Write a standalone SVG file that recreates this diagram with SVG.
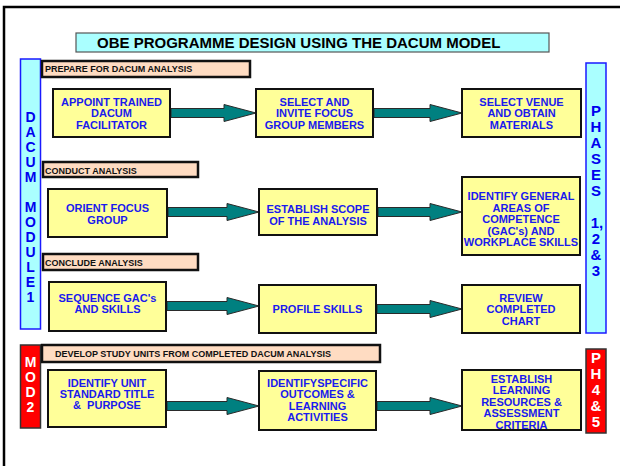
<svg xmlns="http://www.w3.org/2000/svg" width="620" height="466" viewBox="0 0 620 466">
  <style>
    .frame { fill: none; stroke: #000; stroke-width: 2.5; }
    .title-box { fill: #aaffff; stroke: #555; stroke-width: 1.2; }
    .title { font-family: "Liberation Sans", Arial, sans-serif; font-weight: bold; font-size: 15px; fill: #000; }
    .col { fill: #aaffff; stroke: #1a1aff; stroke-width: 1.5; }
    .col-red { fill: #ff0000; stroke: #333; stroke-width: 1.5; }
    .col-txt { font-family: "Liberation Sans", Arial, sans-serif; font-weight: bold; font-size: 14px; fill: #0000ee; text-anchor: middle; }
    .col-txt-w { font-family: "Liberation Sans", Arial, sans-serif; font-weight: bold; font-size: 15px; fill: #fff; text-anchor: middle; }
    .bar { fill: #ffdcc2; stroke: #111; stroke-width: 2.5; }
    .bar-txt { font-family: "Liberation Sans", Arial, sans-serif; font-weight: bold; font-size: 9px; fill: #111; }
    .box { fill: #ffff99; stroke: #111; stroke-width: 2; }
    .box-txt { font-family: "Liberation Sans", Arial, sans-serif; font-weight: bold; font-size: 11px; fill: #1a1aee; text-anchor: middle; }
    .arrow { fill: #008080; stroke: #2a2a2a; stroke-width: 1; }
  </style>

  <rect width="620" height="466" fill="#fff"/>
  <!-- slide frame -->
  <path class="frame" d="M4,466 L4,7 L622,7"/>

  <g id="title">
    <rect class="title-box" x="76" y="33" width="473" height="19"/>
    <text class="title" x="97" y="48">OBE PROGRAMME DESIGN USING THE DACUM MODEL</text>
  </g>

  <!-- side columns -->
  <g id="dacum-module-1">
    <rect class="col" x="20.5" y="59" width="20" height="270"/>
    <text class="col-txt" x="30.5" y="122">D</text>
    <text class="col-txt" x="30.5" y="137">A</text>
    <text class="col-txt" x="30.5" y="152">C</text>
    <text class="col-txt" x="30.5" y="167">U</text>
    <text class="col-txt" x="30.5" y="182">M</text>
    <text class="col-txt" x="30.5" y="212">M</text>
    <text class="col-txt" x="30.5" y="227">O</text>
    <text class="col-txt" x="30.5" y="242">D</text>
    <text class="col-txt" x="30.5" y="257">U</text>
    <text class="col-txt" x="30.5" y="272">L</text>
    <text class="col-txt" x="30.5" y="287">E</text>
    <text class="col-txt" x="30.5" y="302">1</text>
  </g>

  <g id="phases-1-2-3">
    <rect class="col" x="586" y="63" width="20" height="270"/>
    <text class="col-txt" style="font-size:15px" x="596" y="115.5">P</text>
    <text class="col-txt" style="font-size:15px" x="596" y="131.5">H</text>
    <text class="col-txt" style="font-size:15px" x="596" y="147.5">A</text>
    <text class="col-txt" style="font-size:15px" x="596" y="163.5">S</text>
    <text class="col-txt" style="font-size:15px" x="596" y="179.5">E</text>
    <text class="col-txt" style="font-size:15px" x="596" y="195.5">S</text>
    <text class="col-txt" style="font-size:15px" x="597" y="227.5">1,</text>
    <text class="col-txt" style="font-size:15px" x="596" y="243.5">2</text>
    <text class="col-txt" style="font-size:15px" x="596" y="259.5">&amp;</text>
    <text class="col-txt" style="font-size:15px" x="596" y="275.5">3</text>
  </g>

  <g id="mod-2">
    <rect class="col-red" x="20.5" y="345" width="20" height="83"/>
    <text class="col-txt-w" style="font-size:14px" x="30.5" y="367">M</text>
    <text class="col-txt-w" style="font-size:14px" x="30.5" y="382">O</text>
    <text class="col-txt-w" style="font-size:14px" x="30.5" y="397">D</text>
    <text class="col-txt-w" style="font-size:14px" x="30.5" y="412">2</text>
  </g>

  <g id="phases-4-5">
    <rect class="col-red" x="586" y="349" width="20" height="84"/>
    <text class="col-txt-w" x="596" y="362.5">P</text>
    <text class="col-txt-w" x="596" y="378.5">H</text>
    <text class="col-txt-w" x="596" y="394.5">4</text>
    <text class="col-txt-w" x="596" y="410.5">&amp;</text>
    <text class="col-txt-w" x="596" y="426.5">5</text>
  </g>

  <!-- stage headings -->
  <g id="prepare-heading">
    <rect class="bar" x="42" y="61" width="208" height="16"/>
    <text class="bar-txt" x="45" y="72">PREPARE FOR DACUM ANALYSIS</text>
  </g>
  <g id="conduct-heading">
    <rect class="bar" x="43" y="162" width="155" height="15"/>
    <text class="bar-txt" x="45" y="173.5">CONDUCT ANALYSIS</text>
  </g>
  <g id="conclude-heading">
    <rect class="bar" x="43" y="254" width="155" height="16"/>
    <text class="bar-txt" x="45" y="265.5">CONCLUDE ANALYSIS</text>
  </g>
  <g id="develop-heading">
    <rect class="bar" x="42" y="345" width="338" height="17"/>
    <text class="bar-txt" x="55" y="357">DEVELOP STUDY UNITS FROM COMPLETED DACUM ANALYSIS</text>
  </g>

  <!-- connectors -->
  <g id="connectors">
    <path class="arrow" d="M171,108.5 L224,108.5 L224,104.5 L256,113 L224,121.5 L224,117.5 L171,117.5 Z"/>
    <path class="arrow" d="M374,108.5 L430,108.5 L430,104.5 L462,113 L430,121.5 L430,117.5 L374,117.5 Z"/>
    <path class="arrow" d="M168,207.5 L227,207.5 L227,203.5 L259,212 L227,220.5 L227,216.5 L168,216.5 Z"/>
    <path class="arrow" d="M378,207.5 L430,207.5 L430,203.5 L462,212 L430,220.5 L430,216.5 L378,216.5 Z"/>
    <path class="arrow" d="M167,301.5 L227,301.5 L227,297.5 L259,306 L227,314.5 L227,310.5 L167,310.5 Z"/>
    <path class="arrow" d="M377,304.5 L430,304.5 L430,300.5 L462,309 L430,317.5 L430,313.5 L377,313.5 Z"/>
    <path class="arrow" d="M167,401.5 L227,401.5 L227,397.5 L259,406 L227,414.5 L227,410.5 L167,410.5 Z"/>
    <path class="arrow" d="M377,401.5 L430,401.5 L430,397.5 L462,406 L430,414.5 L430,410.5 L377,410.5 Z"/>
  </g>

  <!-- row 1 -->
  <g id="appoint-facilitator">
    <rect class="box" x="53" y="89" width="117" height="48"/>
    <text class="box-txt" x="111.5" y="106">APPOINT TRAINED</text>
    <text class="box-txt" x="111.5" y="117">DACUM</text>
    <text class="box-txt" x="111.5" y="128.5">FACILITATOR</text>
  </g>
  <g id="select-focus-group">
    <rect class="box" x="256" y="89" width="117" height="48"/>
    <text class="box-txt" x="314.5" y="106">SELECT AND</text>
    <text class="box-txt" x="314.5" y="117">INVITE FOCUS</text>
    <text class="box-txt" x="314.5" y="128.5">GROUP MEMBERS</text>
  </g>
  <g id="select-venue">
    <rect class="box" x="462" y="89" width="119" height="48"/>
    <text class="box-txt" x="521.5" y="106">SELECT VENUE</text>
    <text class="box-txt" x="521.5" y="117">AND OBTAIN</text>
    <text class="box-txt" x="521.5" y="128.5">MATERIALS</text>
  </g>

  <!-- row 2 -->
  <g id="orient-focus-group">
    <rect class="box" x="48" y="189" width="119" height="48"/>
    <text class="box-txt" x="107.5" y="212">ORIENT FOCUS</text>
    <text class="box-txt" x="107.5" y="224">GROUP</text>
  </g>
  <g id="establish-scope">
    <rect class="box" x="259" y="189" width="118" height="46"/>
    <text class="box-txt" x="318" y="213">ESTABLISH SCOPE</text>
    <text class="box-txt" x="318" y="225">OF THE ANALYSIS</text>
  </g>
  <g id="identify-gacs">
    <rect class="box" x="462" y="177" width="118" height="78"/>
    <text class="box-txt" x="521" y="200">IDENTIFY GENERAL</text>
    <text class="box-txt" x="521" y="211.5">AREAS OF</text>
    <text class="box-txt" x="521" y="223">COMPETENCE</text>
    <text class="box-txt" x="521" y="234.5">(GAC's) AND</text>
    <text class="box-txt" x="521" y="246">WORKPLACE SKILLS</text>
  </g>

  <!-- row 3 -->
  <g id="sequence-gacs">
    <rect class="box" x="49" y="282" width="117" height="49"/>
    <text class="box-txt" x="107.5" y="302">SEQUENCE GAC's</text>
    <text class="box-txt" x="107.5" y="313">AND SKILLS</text>
  </g>
  <g id="profile-skills">
    <rect class="box" x="259" y="285" width="117" height="48"/>
    <text class="box-txt" x="317.5" y="313">PROFILE SKILLS</text>
  </g>
  <g id="review-chart">
    <rect class="box" x="462" y="285" width="118" height="48"/>
    <text class="box-txt" x="521" y="302">REVIEW</text>
    <text class="box-txt" x="521" y="313">COMPLETED</text>
    <text class="box-txt" x="521" y="324.5">CHART</text>
  </g>

  <!-- row 4 -->
  <g id="identify-unit">
    <rect class="box" x="48" y="370" width="118" height="57"/>
    <text class="box-txt" x="107" y="387">IDENTIFY UNIT</text>
    <text class="box-txt" x="107" y="398">STANDARD TITLE</text>
    <text class="box-txt" x="107" y="409" xml:space="preserve">&amp;  PURPOSE</text>
  </g>
  <g id="identify-outcomes">
    <rect class="box" x="259" y="371" width="117" height="59"/>
    <text class="box-txt" x="317.5" y="387">IDENTIFYSPECIFIC</text>
    <text class="box-txt" x="317.5" y="398.3">OUTCOMES &amp;</text>
    <text class="box-txt" x="317.5" y="409.6">LEARNING</text>
    <text class="box-txt" x="317.5" y="421">ACTIVITIES</text>
  </g>
  <g id="establish-resources">
    <rect class="box" x="462" y="370" width="119" height="60"/>
    <text class="box-txt" x="521.5" y="383">ESTABLISH</text>
    <text class="box-txt" x="521.5" y="394.4">LEARNING</text>
    <text class="box-txt" x="521.5" y="405.8">RESOURCES &amp;</text>
    <text class="box-txt" x="521.5" y="417.2">ASSESSMENT</text>
    <text class="box-txt" x="521.5" y="428.6">CRITERIA</text>
  </g>
</svg>
